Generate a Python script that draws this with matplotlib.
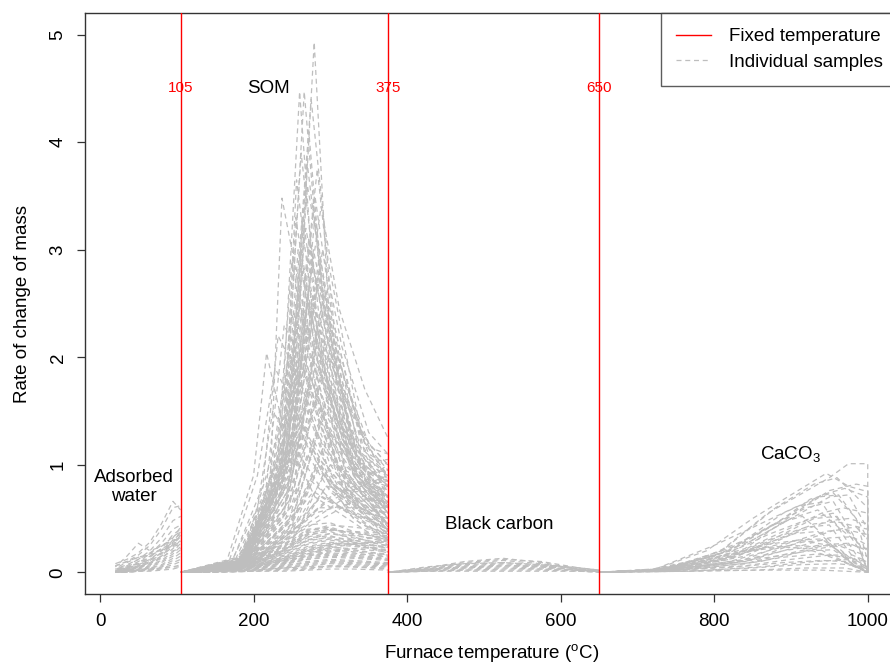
import matplotlib
matplotlib.use('Agg')
import matplotlib.pyplot as plt

plt.rcParams['font.family'] = ['Liberation Sans', 'DejaVu Sans']
plt.rcParams['mathtext.fontset'] = 'custom'
plt.rcParams['mathtext.rm'] = 'Liberation Sans'
plt.rcParams['mathtext.it'] = 'Liberation Sans:italic'

# 固定温度
fixed_temps = [105, 375, 650]

# 吸附水段 (20-105)
water_temps = [20, 35, 50, 65, 80, 95, 105]
water_rates = [
    [0.08, 0.12, 0.18, 0.28, 0.45, 0.66, 0.58],
    [0.06, 0.10, 0.16, 0.25, 0.40, 0.60, 0.62],
    [0.05, 0.15, 0.27, 0.20, 0.24, 0.33, 0.38],
    [0.03, 0.07, 0.12, 0.20, 0.32, 0.48, 0.52],
    [0.02, 0.05, 0.10, 0.17, 0.27, 0.40, 0.44],
    [0.02, 0.04, 0.08, 0.14, 0.22, 0.35, 0.40],
    [0.01, 0.03, 0.06, 0.11, 0.18, 0.30, 0.36],
    [0.01, 0.03, 0.05, 0.09, 0.15, 0.26, 0.33],
    [0.01, 0.02, 0.04, 0.08, 0.13, 0.22, 0.30],
    [0.01, 0.02, 0.04, 0.07, 0.11, 0.19, 0.27],
    [0.00, 0.02, 0.03, 0.06, 0.10, 0.17, 0.24],
    [0.00, 0.01, 0.03, 0.05, 0.09, 0.15, 0.21],
    [0.00, 0.01, 0.02, 0.04, 0.07, 0.13, 0.18],
    [0.00, 0.01, 0.02, 0.04, 0.06, 0.11, 0.15],
    [0.00, 0.01, 0.02, 0.03, 0.05, 0.09, 0.12],
    [0.00, 0.00, 0.01, 0.02, 0.04, 0.07, 0.10],
    [0.00, 0.00, 0.01, 0.02, 0.03, 0.05, 0.07],
    [0.00, 0.00, 0.01, 0.01, 0.02, 0.03, 0.05],
    [0.04, 0.09, 0.14, 0.16, 0.20, 0.28, 0.34],
    [0.03, 0.06, 0.12, 0.18, 0.25, 0.30, 0.31],
    [0.02, 0.04, 0.09, 0.15, 0.22, 0.27, 0.29],
    [0.06, 0.10, 0.14, 0.17, 0.21, 0.24, 0.26],
    [0.01, 0.03, 0.05, 0.08, 0.14, 0.20, 0.22],
    [0.00, 0.01, 0.02, 0.03, 0.04, 0.05, 0.05],
    [0.02, 0.04, 0.07, 0.12, 0.20, 0.32, 0.42],
    [0.01, 0.03, 0.06, 0.10, 0.17, 0.28, 0.38],
    [0.01, 0.02, 0.05, 0.09, 0.15, 0.24, 0.35],
    [0.03, 0.05, 0.08, 0.12, 0.18, 0.25, 0.28],
]

# SOM段, 峰值较高的样品 (温度, 速率)
som_curves = [
    [(105, 0), (175, 0.06), (225, 0.45), (258, 2.2), (279, 4.93), (298, 2.4), (330, 1.05), (375, 0.55)],
    [(105, 0), (180, 0.08), (232, 0.8), (260, 4.47), (282, 2.3), (320, 0.95), (375, 0.42)],
    [(105, 0), (182, 0.1), (240, 1.2), (266, 4.47), (288, 2.6), (330, 1.15), (375, 0.62)],
    [(105, 0), (180, 0.1), (222, 0.9), (237, 3.48), (258, 2.7), (295, 1.4), (375, 0.38)],
    [(105, 0), (185, 0.12), (245, 1.6), (275, 4.4), (297, 2.9), (340, 1.3), (375, 0.85)],
    [(105, 0), (190, 0.12), (248, 1.4), (283, 3.75), (305, 2.3), (345, 1.1), (375, 0.7)],
    [(105, 0), (185, 0.1), (238, 1.1), (262, 3.9), (285, 2.4), (330, 0.9), (375, 0.5)],
    [(105, 0), (190, 0.15), (250, 1.5), (270, 3.6), (295, 2.6), (335, 1.2), (375, 0.9)],
    [(105, 0), (180, 0.1), (235, 0.9), (255, 3.3), (280, 2.1), (320, 0.8), (375, 0.35)],
    [(105, 0), (195, 0.15), (255, 1.8), (288, 3.4), (312, 2.44), (345, 1.7), (375, 1.25)],
    [(105, 0), (185, 0.1), (242, 1.3), (268, 3.2), (290, 2.4), (330, 1.0), (375, 0.6)],
    [(105, 0), (190, 0.12), (250, 1.2), (278, 3.0), (300, 2.2), (340, 1.1), (375, 0.75)],
    [(105, 0), (180, 0.08), (228, 0.8), (250, 2.9), (272, 2.0), (315, 0.8), (375, 0.3)],
    [(105, 0), (195, 0.15), (258, 1.6), (285, 2.9), (310, 2.0), (345, 1.2), (375, 0.95)],
    [(105, 0), (185, 0.1), (240, 1.0), (264, 2.8), (290, 1.9), (330, 0.9), (375, 0.5)],
    [(105, 0), (190, 0.12), (248, 1.1), (273, 2.7), (300, 1.8), (340, 0.9), (375, 0.65)],
    [(105, 0), (200, 0.18), (260, 1.4), (292, 2.6), (318, 1.7), (350, 1.1), (375, 1.0)],
    [(105, 0), (180, 0.1), (236, 0.9), (258, 2.6), (282, 1.7), (320, 0.7), (375, 0.3)],
    [(105, 0), (185, 0.1), (245, 1.0), (270, 2.5), (296, 1.8), (335, 0.9), (375, 0.55)],
    [(105, 0), (188, 0.12), (250, 1.1), (280, 3.3), (305, 2.0), (340, 0.95), (375, 0.6)],
    [(105, 0), (182, 0.1), (238, 1.0), (256, 3.65), (276, 2.5), (320, 0.9), (375, 0.45)],
    [(105, 0), (188, 0.1), (245, 1.2), (272, 4.1), (292, 2.4), (330, 1.0), (375, 0.55)],
    [(105, 0), (165, 0.1), (200, 0.9), (217, 2.04), (240, 1.3), (280, 0.7), (375, 0.25)],
    [(105, 0), (168, 0.1), (205, 0.9), (228, 1.9), (255, 1.5), (300, 0.8), (375, 0.35)],
    [(105, 0), (172, 0.1), (212, 0.8), (232, 2.2), (260, 1.8), (300, 0.9), (375, 0.4)],
    [(105, 0), (175, 0.1), (215, 0.7), (240, 2.3), (265, 1.9), (310, 1.0), (375, 0.5)],
    [(105, 0), (185, 0.1), (240, 0.8), (268, 2.2), (295, 1.5), (335, 0.9), (375, 0.6)],
    [(105, 0), (190, 0.12), (250, 0.9), (282, 2.1), (310, 1.5), (345, 1.0), (375, 0.8)],
    [(105, 0), (180, 0.08), (235, 0.7), (260, 2.0), (285, 1.4), (330, 0.7), (375, 0.4)],
    [(105, 0), (195, 0.12), (255, 0.9), (290, 1.9), (320, 1.3), (350, 1.0), (375, 0.9)],
    [(105, 0), (185, 0.1), (245, 0.7), (275, 1.8), (305, 1.2), (340, 0.8), (375, 0.6)],
    [(105, 0), (190, 0.1), (250, 0.7), (285, 1.7), (315, 1.2), (350, 0.9), (375, 0.75)],
    [(105, 0), (180, 0.08), (240, 0.6), (265, 1.6), (295, 1.0), (335, 0.6), (375, 0.35)],
    [(105, 0), (195, 0.1), (258, 0.8), (295, 1.6), (325, 1.1), (355, 0.9), (375, 0.85)],
    [(105, 0), (185, 0.08), (245, 0.6), (272, 1.5), (300, 1.0), (340, 0.6), (375, 0.45)],
    [(105, 0), (190, 0.1), (255, 0.6), (288, 1.4), (318, 1.0), (350, 0.8), (375, 0.7)],
    [(105, 0), (180, 0.07), (238, 0.5), (262, 1.3), (292, 0.9), (330, 0.5), (375, 0.3)],
    [(105, 0), (195, 0.1), (260, 0.6), (300, 1.3), (330, 1.0), (375, 1.05)],
    [(105, 0), (190, 0.08), (250, 0.5), (280, 1.2), (310, 0.8), (345, 0.55), (375, 0.5)],
    [(105, 0), (185, 0.08), (245, 0.45), (270, 1.1), (300, 0.75), (340, 0.5), (375, 0.4)],
    [(105, 0), (200, 0.1), (260, 0.5), (300, 1.0), (335, 0.9), (375, 0.95)],
    [(105, 0), (190, 0.08), (252, 0.4), (285, 1.0), (318, 0.7), (350, 0.55), (375, 0.5)],
    [(105, 0), (195, 0.08), (255, 0.35), (290, 0.9), (325, 0.7), (375, 0.65)],
    [(105, 0), (200, 0.1), (240, 0.3), (300, 0.6), (340, 0.8), (375, 0.9)],
    [(105, 0), (200, 0.1), (230, 0.25), (290, 0.5), (340, 0.7), (375, 0.8)],
    [(105, 0), (190, 0.08), (240, 0.3), (280, 0.55), (330, 0.65), (375, 0.7)],
    [(105, 0), (185, 0.08), (250, 0.3), (295, 0.8), (330, 0.6), (375, 0.55)],
    [(105, 0), (195, 0.1), (250, 0.4), (278, 1.6), (305, 1.0), (345, 0.7), (375, 0.65)],
    [(105, 0), (188, 0.1), (240, 0.55), (268, 1.9), (290, 1.3), (330, 0.7), (375, 0.45)],
    [(105, 0), (192, 0.1), (252, 0.8), (286, 2.4), (310, 1.6), (345, 1.0), (375, 0.8)],
    [(105, 0), (185, 0.1), (240, 0.9), (265, 2.4), (290, 1.8), (330, 1.0), (375, 0.7)],
    [(105, 0), (190, 0.1), (245, 1.0), (275, 2.6), (300, 1.9), (340, 1.1), (375, 0.8)],
    [(105, 0), (188, 0.1), (250, 1.2), (285, 2.8), (310, 2.0), (345, 1.2), (375, 0.9)],
    [(105, 0), (192, 0.12), (255, 1.3), (290, 3.0), (315, 2.1), (350, 1.3), (375, 1.1)],
    [(105, 0), (185, 0.1), (242, 0.9), (270, 2.3), (295, 1.7), (335, 0.9), (375, 0.55)],
    [(105, 0), (190, 0.1), (248, 0.8), (278, 2.0), (305, 1.5), (340, 1.0), (375, 0.85)],
    [(105, 0), (182, 0.1), (236, 0.8), (262, 2.1), (288, 1.5), (325, 0.8), (375, 0.45)],
    [(105, 0), (195, 0.12), (255, 1.0), (295, 2.2), (320, 1.6), (350, 1.2), (375, 1.0)],
    [(105, 0), (188, 0.1), (246, 0.9), (276, 2.5), (302, 1.7), (338, 1.0), (375, 0.7)],
    [(105, 0), (186, 0.1), (244, 1.1), (272, 3.1), (295, 2.2), (335, 1.1), (375, 0.65)],
    [(105, 0), (184, 0.1), (240, 1.0), (262, 3.0), (285, 2.0), (325, 1.0), (375, 0.5)],
    [(105, 0), (190, 0.12), (250, 1.3), (280, 3.5), (302, 2.4), (340, 1.2), (375, 0.8)],
    [(105, 0), (187, 0.1), (246, 1.2), (270, 3.8), (292, 2.5), (332, 1.1), (375, 0.6)],
    [(105, 0), (183, 0.1), (238, 1.0), (258, 3.0), (282, 2.0), (322, 0.9), (375, 0.45)],
    [(105, 0), (192, 0.12), (252, 1.1), (284, 2.7), (308, 1.9), (342, 1.1), (375, 0.9)],
    [(105, 0), (186, 0.1), (244, 0.8), (274, 1.7), (300, 1.3), (338, 0.9), (375, 0.7)],
    [(105, 0), (190, 0.1), (250, 0.9), (280, 1.9), (310, 1.4), (345, 0.95), (375, 0.85)],
    [(105, 0), (180, 0.08), (232, 0.6), (255, 1.5), (280, 1.1), (320, 0.6), (375, 0.3)],
    [(105, 0), (195, 0.1), (258, 0.7), (292, 1.5), (322, 1.1), (352, 0.85), (375, 0.8)],
    [(105, 0), (188, 0.08), (248, 0.6), (282, 1.3), (312, 0.95), (345, 0.7), (375, 0.6)],
    [(105, 0), (185, 0.08), (242, 0.5), (268, 1.2), (296, 0.85), (335, 0.55), (375, 0.4)],
    [(105, 0), (192, 0.1), (254, 0.55), (290, 1.15), (322, 0.9), (355, 0.75), (375, 0.7)],
    [(105, 0), (190, 0.08), (250, 0.45), (284, 0.95), (316, 0.75), (350, 0.6), (375, 0.55)],
    [(105, 0), (185, 0.08), (245, 0.4), (275, 0.85), (305, 0.65), (340, 0.45), (375, 0.35)],
    [(105, 0), (195, 0.1), (255, 0.4), (295, 0.8), (330, 0.75), (375, 0.75)],
    [(105, 0), (200, 0.1), (245, 0.35), (300, 0.7), (345, 0.85), (375, 1.0)],
    [(105, 0), (198, 0.1), (235, 0.3), (295, 0.65), (340, 0.8), (375, 0.85)],
    [(105, 0), (190, 0.08), (245, 0.35), (285, 0.6), (330, 0.6), (375, 0.6)],
    [(105, 0), (188, 0.08), (248, 0.4), (288, 0.7), (325, 0.55), (375, 0.45)],
    [(105, 0), (186, 0.08), (244, 0.45), (278, 0.75), (315, 0.6), (375, 0.4)],
    [(105, 0), (194, 0.1), (252, 0.5), (286, 1.05), (318, 0.8), (350, 0.6), (375, 0.55)],
    [(105, 0), (170, 0.08), (205, 0.6), (225, 1.5), (250, 1.2), (295, 0.7), (375, 0.3)],
    [(105, 0), (175, 0.08), (215, 0.6), (238, 1.7), (262, 1.4), (305, 0.8), (375, 0.4)],
    [(105, 0), (178, 0.1), (220, 0.7), (245, 2.0), (270, 1.6), (310, 0.9), (375, 0.45)],
    [(105, 0), (180, 0.1), (228, 0.8), (250, 2.4), (275, 1.8), (315, 0.9), (375, 0.5)],
    [(105, 0), (196, 0.12), (258, 1.1), (298, 2.0), (325, 1.5), (355, 1.15), (375, 1.1)],
    [(105, 0), (194, 0.12), (256, 1.2), (292, 2.5), (318, 1.8), (350, 1.2), (375, 1.0)],
    [(105, 0), (187, 0.1), (246, 1.0), (268, 2.6), (292, 1.9), (330, 1.0), (375, 0.6)],
    [(105, 0), (189, 0.1), (249, 1.0), (276, 2.9), (300, 2.0), (338, 1.0), (375, 0.7)],
    [(105, 0), (184, 0.1), (243, 1.1), (264, 3.3), (287, 2.2), (326, 1.0), (375, 0.55)],
]

# SOM段, 低值样品
som_low_temps = [105, 150, 200, 240, 270, 300, 330, 375]
som_low_rates = [
    [0, 0.03, 0.10, 0.22, 0.35, 0.38, 0.30, 0.22],
    [0, 0.03, 0.09, 0.20, 0.32, 0.34, 0.28, 0.20],
    [0, 0.02, 0.08, 0.18, 0.29, 0.33, 0.30, 0.25],
    [0, 0.02, 0.08, 0.16, 0.26, 0.30, 0.26, 0.18],
    [0, 0.02, 0.07, 0.15, 0.24, 0.28, 0.25, 0.20],
    [0, 0.02, 0.06, 0.13, 0.22, 0.26, 0.24, 0.21],
    [0, 0.02, 0.06, 0.12, 0.20, 0.24, 0.21, 0.16],
    [0, 0.02, 0.05, 0.11, 0.18, 0.22, 0.20, 0.17],
    [0, 0.01, 0.05, 0.10, 0.16, 0.20, 0.18, 0.14],
    [0, 0.01, 0.04, 0.09, 0.15, 0.18, 0.17, 0.15],
    [0, 0.01, 0.04, 0.08, 0.13, 0.16, 0.15, 0.12],
    [0, 0.01, 0.03, 0.07, 0.12, 0.14, 0.13, 0.11],
    [0, 0.01, 0.03, 0.06, 0.10, 0.12, 0.11, 0.09],
    [0, 0.01, 0.02, 0.05, 0.08, 0.10, 0.09, 0.08],
    [0, 0.01, 0.02, 0.04, 0.06, 0.08, 0.07, 0.06],
    [0, 0.00, 0.01, 0.03, 0.04, 0.06, 0.06, 0.05],
    [0, 0.00, 0.01, 0.02, 0.03, 0.05, 0.05, 0.04],
    [0, 0.00, 0.01, 0.01, 0.02, 0.03, 0.03, 0.02],
    [0, 0.04, 0.12, 0.25, 0.40, 0.42, 0.35, 0.28],
    [0, 0.03, 0.11, 0.24, 0.37, 0.40, 0.36, 0.32],
    [0, 0.02, 0.09, 0.19, 0.30, 0.36, 0.34, 0.30],
    [0, 0.02, 0.07, 0.14, 0.21, 0.25, 0.27, 0.28],
    [0, 0.01, 0.05, 0.10, 0.15, 0.19, 0.22, 0.24],
    [0, 0.01, 0.02, 0.04, 0.05, 0.06, 0.05, 0.03],
    [0, 0.02, 0.10, 0.26, 0.44, 0.46, 0.38, 0.30],
    [0, 0.02, 0.08, 0.20, 0.38, 0.44, 0.42, 0.38],
    [0, 0.03, 0.09, 0.21, 0.33, 0.36, 0.32, 0.26],
    [0, 0.02, 0.08, 0.17, 0.27, 0.31, 0.28, 0.23],
    [0, 0.02, 0.07, 0.14, 0.23, 0.27, 0.26, 0.24],
    [0, 0.02, 0.06, 0.12, 0.19, 0.23, 0.22, 0.19],
    [0, 0.01, 0.05, 0.11, 0.17, 0.21, 0.19, 0.16],
    [0, 0.01, 0.04, 0.09, 0.14, 0.17, 0.16, 0.13],
    [0, 0.01, 0.04, 0.08, 0.12, 0.15, 0.14, 0.12],
    [0, 0.01, 0.03, 0.06, 0.09, 0.11, 0.10, 0.08],
    [0, 0.01, 0.02, 0.04, 0.07, 0.09, 0.08, 0.07],
    [0, 0.03, 0.10, 0.23, 0.36, 0.40, 0.37, 0.34],
    [0, 0.02, 0.09, 0.21, 0.34, 0.39, 0.38, 0.36],
    [0, 0.02, 0.06, 0.13, 0.20, 0.26, 0.30, 0.33],
    [0, 0.01, 0.05, 0.11, 0.17, 0.23, 0.26, 0.30],
    [0, 0.02, 0.08, 0.18, 0.30, 0.32, 0.27, 0.19],
    [0, 0.03, 0.11, 0.24, 0.39, 0.41, 0.33, 0.24],
]

# 黑碳段 (375-650)
bc_temps = [375, 425, 475, 525, 575, 625, 650]
bc_rates = [
    [0, 0.04, 0.10, 0.13, 0.09, 0.03, 0.02],
    [0, 0.04, 0.09, 0.12, 0.10, 0.04, 0.02],
    [0, 0.03, 0.08, 0.11, 0.08, 0.03, 0.01],
    [0, 0.03, 0.07, 0.09, 0.07, 0.03, 0.01],
    [0, 0.02, 0.06, 0.08, 0.06, 0.02, 0.01],
    [0, 0.02, 0.05, 0.07, 0.05, 0.02, 0.01],
    [0, 0.02, 0.04, 0.06, 0.05, 0.02, 0.01],
    [0, 0.02, 0.04, 0.05, 0.04, 0.02, 0.01],
    [0, 0.01, 0.03, 0.04, 0.03, 0.02, 0.01],
    [0, 0.01, 0.02, 0.03, 0.03, 0.01, 0.01],
    [0, 0.01, 0.02, 0.02, 0.02, 0.01, 0.00],
    [0, 0.01, 0.01, 0.01, 0.01, 0.01, 0.00],
    [0, 0.05, 0.08, 0.09, 0.07, 0.04, 0.02],
    [0, 0.03, 0.05, 0.06, 0.06, 0.04, 0.02],
]

# CaCO3段 (650-1000)
caco3_curves = [
    [(650, 0), (720, 0.02), (800, 0.15), (870, 0.55), (950, 0.88), (975, 1.01), (1000, 1.01), (1000, 0)],
    [(650, 0), (720, 0.02), (790, 0.2), (850, 0.5), (900, 0.72), (946, 0.92), (975, 0.8), (1000, 0.75), (1000, 0)],
    [(650, 0), (730, 0.02), (810, 0.2), (880, 0.6), (930, 0.82), (960, 0.88), (1000, 0.6), (1000, 0)],
    [(650, 0), (730, 0.02), (820, 0.2), (890, 0.5), (940, 0.72), (970, 0.78), (1000, 0.7), (1000, 0)],
    [(650, 0), (740, 0.03), (830, 0.22), (900, 0.5), (950, 0.7), (975, 0.72), (1000, 0.4), (1000, 0)],
    [(650, 0), (720, 0.02), (800, 0.25), (860, 0.45), (910, 0.62), (940, 0.65), (1000, 0)],
    [(650, 0), (730, 0.02), (810, 0.18), (870, 0.42), (920, 0.6), (955, 0.66), (985, 0.3), (1000, 0)],
    [(650, 0), (740, 0.03), (830, 0.18), (890, 0.38), (940, 0.55), (968, 0.6), (1000, 0.55), (1000, 0)],
    [(650, 0), (740, 0.02), (830, 0.15), (880, 0.32), (930, 0.5), (960, 0.52), (990, 0.2), (1000, 0)],
    [(650, 0), (750, 0.03), (840, 0.15), (900, 0.35), (950, 0.48), (975, 0.5), (1000, 0.45), (1000, 0)],
    [(650, 0), (740, 0.03), (820, 0.14), (870, 0.3), (920, 0.42), (950, 0.44), (980, 0.15), (1000, 0)],
    [(650, 0), (750, 0.03), (840, 0.12), (900, 0.28), (945, 0.38), (970, 0.4), (1000, 0.35), (1000, 0)],
    [(650, 0), (730, 0.02), (810, 0.12), (860, 0.25), (905, 0.36), (935, 0.38), (975, 0.1), (1000, 0)],
    [(650, 0), (750, 0.03), (840, 0.1), (900, 0.22), (950, 0.32), (980, 0.33), (1000, 0.25), (1000, 0)],
    [(650, 0), (740, 0.02), (820, 0.1), (870, 0.2), (915, 0.28), (945, 0.3), (985, 0.05), (1000, 0)],
    [(650, 0), (750, 0.02), (840, 0.08), (900, 0.18), (950, 0.26), (975, 0.27), (1000, 0.2), (1000, 0)],
    [(650, 0), (740, 0.02), (820, 0.08), (880, 0.15), (925, 0.2), (955, 0.21), (990, 0.03), (1000, 0)],
    [(650, 0), (750, 0.02), (840, 0.06), (900, 0.12), (950, 0.16), (980, 0.16), (1000, 0.1), (1000, 0)],
    [(650, 0), (750, 0.02), (830, 0.05), (890, 0.09), (940, 0.11), (970, 0.1), (1000, 0)],
    [(650, 0), (760, 0.01), (850, 0.04), (910, 0.07), (960, 0.08), (1000, 0.05), (1000, 0)],
    [(650, 0), (760, 0.01), (850, 0.02), (920, 0.04), (970, 0.04), (1000, 0)],
    [(650, 0), (760, 0.01), (860, 0.02), (940, 0.02), (1000, 0)],
    [(650, 0), (720, 0.03), (780, 0.12), (840, 0.3), (880, 0.45), (915, 0.52), (950, 0.3), (990, 0.05), (1000, 0)],
    [(650, 0), (730, 0.03), (800, 0.15), (850, 0.3), (900, 0.5), (935, 0.58), (965, 0.4), (1000, 0.2), (1000, 0)],
    [(650, 0), (740, 0.03), (820, 0.2), (880, 0.45), (925, 0.68), (955, 0.74), (985, 0.5), (1000, 0.1), (1000, 0)],
    [(650, 0), (750, 0.03), (840, 0.22), (905, 0.55), (950, 0.76), (985, 0.82), (1000, 0.8), (1000, 0)],
    [(650, 0), (700, 0.01), (760, 0.06), (800, 0.14), (840, 0.2), (880, 0.24), (920, 0.22), (960, 0.12), (1000, 0)],
    [(650, 0), (700, 0.01), (770, 0.08), (820, 0.16), (870, 0.26), (910, 0.3), (950, 0.25), (1000, 0.05), (1000, 0)],
    [(650, 0), (740, 0.02), (820, 0.12), (880, 0.3), (930, 0.45), (960, 0.47), (1000, 0.4), (1000, 0)],
    [(650, 0), (730, 0.02), (800, 0.1), (860, 0.22), (910, 0.3), (940, 0.31), (980, 0.1), (1000, 0)],
    [(650, 0), (750, 0.02), (850, 0.12), (910, 0.28), (960, 0.4), (985, 0.42), (1000, 0.3), (1000, 0)],
    [(650, 0), (740, 0.02), (830, 0.1), (890, 0.2), (935, 0.25), (965, 0.24), (1000, 0.15), (1000, 0)],
    [(650, 0), (720, 0.02), (790, 0.1), (850, 0.2), (900, 0.25), (930, 0.24), (975, 0.08), (1000, 0)],
    [(650, 0), (760, 0.02), (860, 0.1), (920, 0.2), (970, 0.26), (1000, 0.22), (1000, 0)],
    [(650, 0), (730, 0.02), (810, 0.15), (870, 0.35), (925, 0.5), (955, 0.55), (990, 0.25), (1000, 0)],
    [(650, 0), (740, 0.03), (830, 0.25), (890, 0.55), (935, 0.7), (962, 0.72), (990, 0.45), (1000, 0.3), (1000, 0)],
    [(650, 0), (750, 0.02), (840, 0.08), (890, 0.14), (935, 0.17), (970, 0.14), (1000, 0.05), (1000, 0)],
    [(650, 0), (770, 0.01), (860, 0.05), (930, 0.1), (980, 0.12), (1000, 0.1), (1000, 0)],
]

# 区域标注
region_labels = ['Adsorbed\nwater', 'SOM', 'Black carbon', r'CaCO$_3$']
region_x = [44, 220, 520, 900]
region_y = [0.79, 4.5, 0.44, 1.1]

GREY = '#bebebe'
FS = 13.5

fig = plt.figure(figsize=(8.9, 6.65), dpi=100)
ax = fig.add_axes([0.0958, 0.1071, 0.913, 0.873])

k = 0
def draw(t, r):
    global k
    ax.plot(t, r, color=GREY, lw=0.9, linestyle=(k % 7, (4, 3)), zorder=2)
    k += 1

for rates in water_rates:
    draw(water_temps, rates)
for rates in som_low_rates:
    draw(som_low_temps, rates)
for curve in som_curves:
    t, r = zip(*curve)
    draw(t, r)
for rates in bc_rates:
    draw(bc_temps, rates)
for curve in caco3_curves:
    t, r = zip(*curve)
    draw(t, r)

for T in fixed_temps:
    ax.axvline(T, color='red', lw=1.0, zorder=3)
    ax.text(T, 4.5, str(T), color='red', fontsize=11, ha='center', va='center', zorder=4)

for lab, x, y in zip(region_labels, region_x, region_y):
    ax.text(x, y, lab, fontsize=FS, ha='center', va='center', linespacing=1.15, zorder=4)

# 图例
ax.plot([], [], color='red', lw=1.0, label='Fixed temperature')
ax.plot([], [], color=GREY, lw=0.9, linestyle=(0, (4, 3)), label='Individual samples')
leg = ax.legend(loc='upper right', fontsize=FS, frameon=True, fancybox=False,
                borderaxespad=0, handlelength=1.9, handletextpad=0.95,
                labelspacing=0.44, borderpad=0.8)
leg.get_frame().set_edgecolor('#333333')
leg.get_frame().set_linewidth(1.0)

ax.set_xlim(-19.2, 1039.2)
ax.set_ylim(-0.2, 5.2)
ax.set_xticks([0, 200, 400, 600, 800, 1000])
ax.set_yticks([0, 1, 2, 3, 4, 5])
ax.tick_params(axis='both', direction='out', length=5.5, width=0.9, color='#333333', labelsize=FS)
ax.tick_params(axis='x', pad=8)
ax.tick_params(axis='y', pad=8)
for lab in ax.get_yticklabels():
    lab.set_rotation(90)
    lab.set_va('center')
for sp in ax.spines.values():
    sp.set_color('#333333')
    sp.set_linewidth(1.0)

ax.set_xlabel(r'Furnace temperature ($^{\mathrm{o}}$C)', fontsize=FS, labelpad=9)
ax.set_ylabel('Rate of change of mass', fontsize=FS, labelpad=13)

fig.savefig('out.png', dpi=100)
